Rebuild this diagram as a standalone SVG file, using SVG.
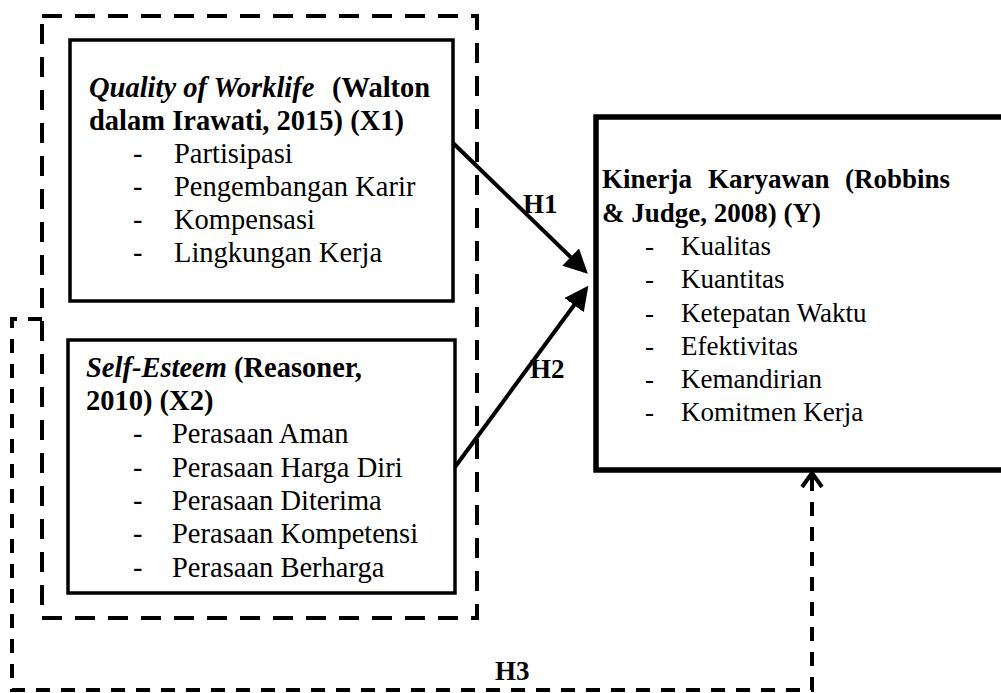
<svg xmlns="http://www.w3.org/2000/svg" width="1001" height="693" viewBox="0 0 1001 693">
<style>
text{font-family:"Liberation Serif","Times New Roman",serif;font-size:27px;fill:#000}
.l text{font-size:28.5px}
.b{font-weight:bold}
.bi{font-weight:bold;font-style:italic}
.box{fill:none;stroke:#000;stroke-width:3.5}
.boxY{fill:none;stroke:#000;stroke-width:5.5}
.grp{fill:none;stroke:#000;stroke-width:4;stroke-dasharray:20 13}
.h3{fill:none;stroke:#000;stroke-width:4;stroke-dasharray:14 11}
.arr{fill:none;stroke:#000;stroke-width:4}
</style>
<defs>
<marker id="ah" markerWidth="6" markerHeight="6" refX="5" refY="3" orient="auto" markerUnits="strokeWidth">
<path d="M0,0 L6,3 L0,6 Z" fill="#000"/>
</marker>
</defs>
<rect width="1001" height="693" fill="#fff"/>
<g id="group-x">
<rect class="grp" x="42" y="16" width="435" height="602"/>
</g>
<g id="node-x1" class="l">
<rect class="box" x="70" y="40" width="383" height="261"/>
<text y="97"><tspan x="89" class="bi">Quality of Worklife</tspan><tspan x="332" class="b">(Walton</tspan></text>
<text x="89" y="130" class="b">dalam Irawati, 2015) (X1)</text>
<text x="133" y="163">-</text><text x="174" y="163">Partisipasi</text>
<text x="133" y="196">-</text><text x="174" y="196">Pengembangan Karir</text>
<text x="133" y="229">-</text><text x="174" y="229">Kompensasi</text>
<text x="133" y="262">-</text><text x="174" y="262">Lingkungan Kerja</text>
</g>
<g id="node-x2" class="l">
<rect class="box" x="68" y="340" width="387" height="253"/>
<text x="86" y="377"><tspan class="bi">Self-Esteem</tspan><tspan class="b"> (Reasoner,</tspan></text>
<text x="86" y="410" class="b">2010) (X2)</text>
<text x="133" y="443">-</text><text x="172" y="443">Perasaan Aman</text>
<text x="133" y="477">-</text><text x="172" y="477">Perasaan Harga Diri</text>
<text x="133" y="510">-</text><text x="172" y="510">Perasaan Diterima</text>
<text x="133" y="543">-</text><text x="172" y="543">Perasaan Kompetensi</text>
<text x="133" y="577">-</text><text x="172" y="577">Perasaan Berharga</text>
</g>
<g id="node-y">
<rect class="boxY" x="596" y="117" width="420" height="353"/>
<text y="188" class="b"><tspan x="602">Kinerja</tspan><tspan x="708">Karyawan</tspan><tspan x="845">(Robbins</tspan></text>
<text x="602" y="222" class="b">&amp; Judge, 2008) (Y)</text>
<text x="645" y="255">-</text><text x="681" y="255">Kualitas</text>
<text x="645" y="288">-</text><text x="681" y="288">Kuantitas</text>
<text x="645" y="322">-</text><text x="681" y="322">Ketepatan Waktu</text>
<text x="645" y="355">-</text><text x="681" y="355">Efektivitas</text>
<text x="645" y="388">-</text><text x="681" y="388">Kemandirian</text>
<text x="645" y="421">-</text><text x="681" y="421">Komitmen Kerja</text>
</g>
<g id="connectors">
<line class="arr" x1="453" y1="143" x2="585" y2="271" marker-end="url(#ah)"/>
<line class="arr" x1="455" y1="467" x2="586" y2="289" marker-end="url(#ah)"/>
<path class="h3" d="M42,319 H12 V690 H812 V476"/>
<path d="M802,487 L812,473 L822,487" fill="none" stroke="#000" stroke-width="4"/>
<text x="523" y="213" class="b">H1</text>
<text x="530" y="378" class="b">H2</text>
<text x="495" y="680" class="b">H3</text>
</g>
</svg>
